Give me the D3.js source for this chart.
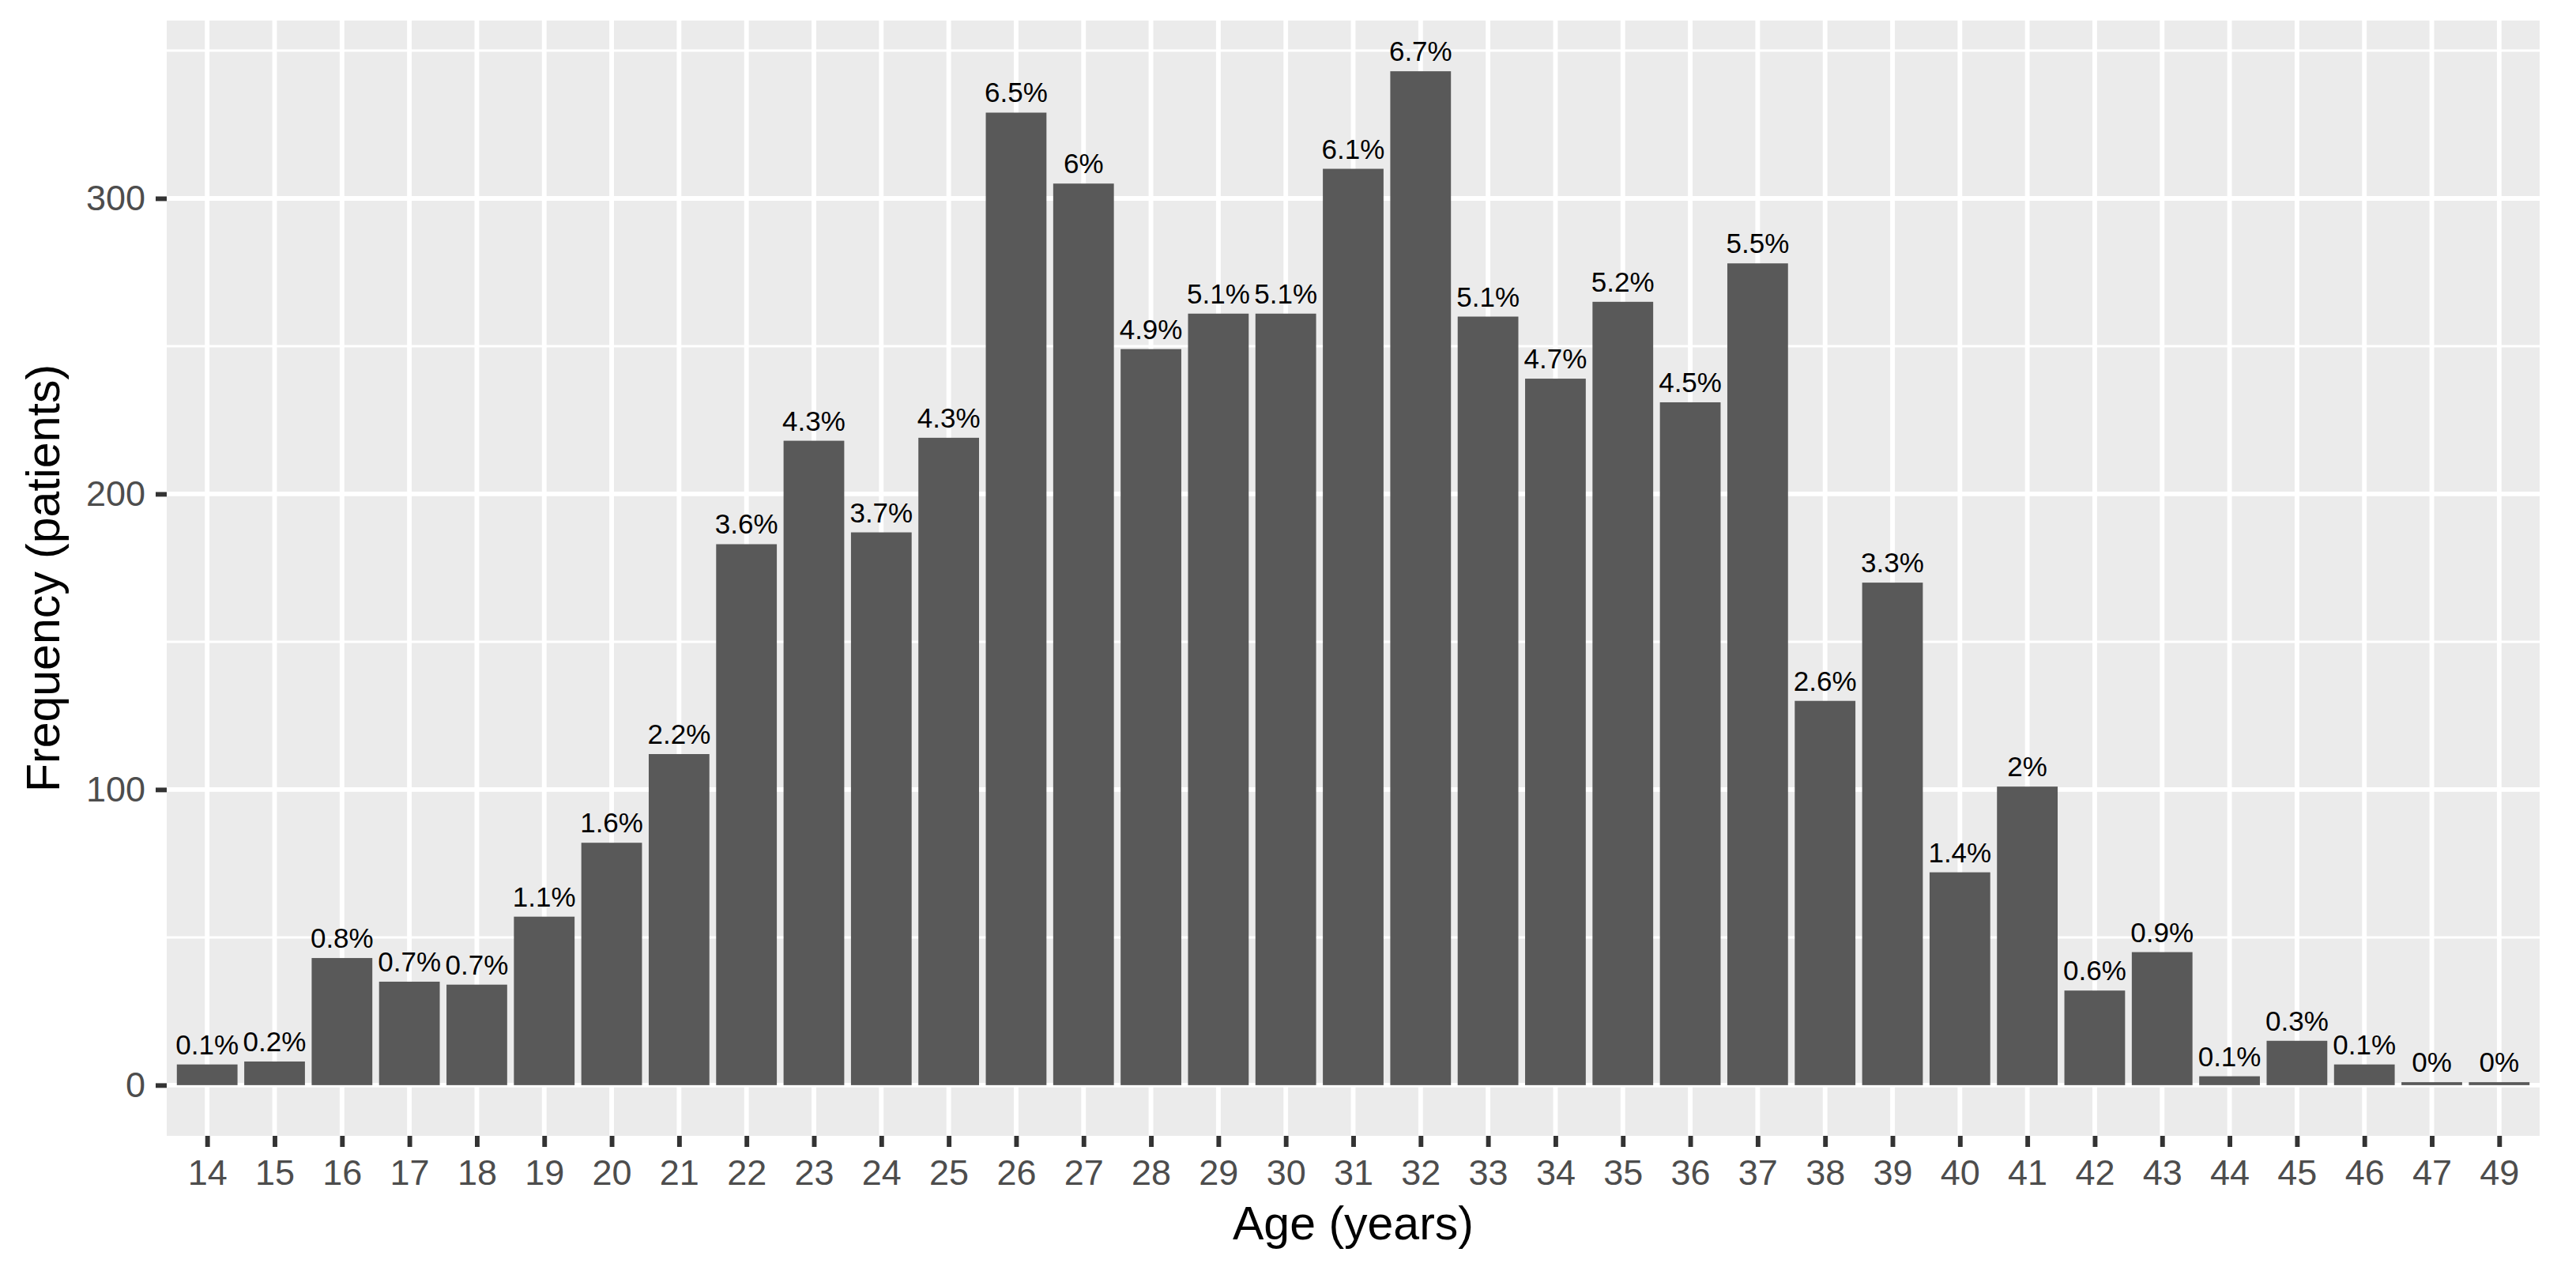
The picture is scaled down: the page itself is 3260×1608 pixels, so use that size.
<!DOCTYPE html>
<html>
<head>
<meta charset="utf-8">
<script src="https://cdn.jsdelivr.net/npm/d3@7"></script>
<style>
  body { margin: 0; background: #fff; }
  text { font-family: "Liberation Sans", Arial, Helvetica, sans-serif; }
</style>
</head>
<body>
<svg id="chart"></svg>
<script>
// ages on the x axis (48 is absent in the data)
const ages = ["14","15","16","17","18","19","20","21","22","23","24","25","26","27","28","29","30","31","32","33","34","35","36","37","38","39","40","41","42","43","44","45","46","47","49"];

// number of patients per age
const counts = [7, 8, 43, 35, 34, 57, 82, 112, 183, 218, 187, 219, 329, 305, 249, 261, 261, 310, 343, 260, 239, 265, 231, 278, 130, 170, 72, 101, 32, 45, 3, 15, 7, 1, 1];

// labels printed above the bars
const pctLabels = ["0.1%","0.2%","0.8%","0.7%","0.7%","1.1%","1.6%","2.2%","3.6%","4.3%","3.7%","4.3%","6.5%","6%","4.9%","5.1%","5.1%","6.1%","6.7%","5.1%","4.7%","5.2%","4.5%","5.5%","2.6%","3.3%","1.4%","2%","0.6%","0.9%","0.1%","0.3%","0.1%","0%","0%"];

const yTicks = [0, 100, 200, 300];
const yMinor = [50, 150, 250, 350];

const W = 3260, H = 1608;
const panel = { left: 211, right: 3214, top: 26, bottom: 1437 };

const svg = d3.select("#chart").attr("width", W).attr("height", H);

const maxCount = d3.max(counts);
const y = d3.scaleLinear()
    .domain([-0.05 * maxCount, 1.05 * maxCount])
    .range([panel.bottom, panel.top]);

const x = d3.scalePoint()
    .domain(ages)
    .range([panel.left, panel.right])
    .padding(0.6);

const barW = x.step() * 0.9;

// panel background
svg.append("rect")
    .attr("x", panel.left).attr("y", panel.top)
    .attr("width", panel.right - panel.left)
    .attr("height", panel.bottom - panel.top)
    .attr("fill", "#EBEBEB");

// minor horizontal grid
svg.append("g").selectAll("line")
    .data(yMinor.filter(v => y(v) >= panel.top))
    .join("line")
    .attr("x1", panel.left).attr("x2", panel.right)
    .attr("y1", d => y(d)).attr("y2", d => y(d))
    .attr("stroke", "#fff").attr("stroke-width", 3);

// major horizontal grid
svg.append("g").selectAll("line")
    .data(yTicks)
    .join("line")
    .attr("x1", panel.left).attr("x2", panel.right)
    .attr("y1", d => y(d)).attr("y2", d => y(d))
    .attr("stroke", "#fff").attr("stroke-width", 5.9);

// vertical grid
svg.append("g").selectAll("line")
    .data(ages)
    .join("line")
    .attr("x1", d => x(d)).attr("x2", d => x(d))
    .attr("y1", panel.top).attr("y2", panel.bottom)
    .attr("stroke", "#fff").attr("stroke-width", 5.9);

// bars
svg.append("g").selectAll("rect")
    .data(counts)
    .join("rect")
    .attr("x", (d, i) => x(ages[i]) - barW / 2)
    .attr("y", d => y(d))
    .attr("width", barW)
    .attr("height", d => y(0) - y(d))
    .attr("fill", "#595959");

// percentage labels
svg.append("g").selectAll("text")
    .data(counts)
    .join("text")
    .attr("x", (d, i) => x(ages[i]))
    .attr("y", d => y(d) - 13)
    .attr("text-anchor", "middle")
    .attr("font-size", 35)
    .attr("fill", "#000")
    .text((d, i) => pctLabels[i]);

// axes
const yAxis = svg.append("g")
    .attr("transform", `translate(${panel.left},0)`)
    .call(d3.axisLeft(y).tickValues(yTicks).tickSize(14).tickPadding(13));

const xAxis = svg.append("g")
    .attr("transform", `translate(0,${panel.bottom})`)
    .call(d3.axisBottom(x).tickSize(14).tickPadding(16));

[yAxis, xAxis].forEach(ax => {
    ax.select(".domain").remove();
    ax.selectAll(".tick line").attr("stroke", "#333333").attr("stroke-width", 5.9);
    ax.selectAll(".tick text")
        .attr("fill", "#4D4D4D")
        .attr("font-size", 45)
        .attr("font-family", "'Liberation Sans', Arial, sans-serif");
});

// axis titles
svg.append("text")
    .attr("x", (panel.left + panel.right) / 2)
    .attr("y", 1568)
    .attr("text-anchor", "middle")
    .attr("font-size", 59)
    .attr("fill", "#000")
    .text("Age (years)");

svg.append("text")
    .attr("transform", `translate(75,${(panel.top + panel.bottom) / 2}) rotate(-90)`)
    .attr("text-anchor", "middle")
    .attr("font-size", 59)
    .attr("fill", "#000")
    .text("Frequency (patients)");
</script>
</body>
</html>
